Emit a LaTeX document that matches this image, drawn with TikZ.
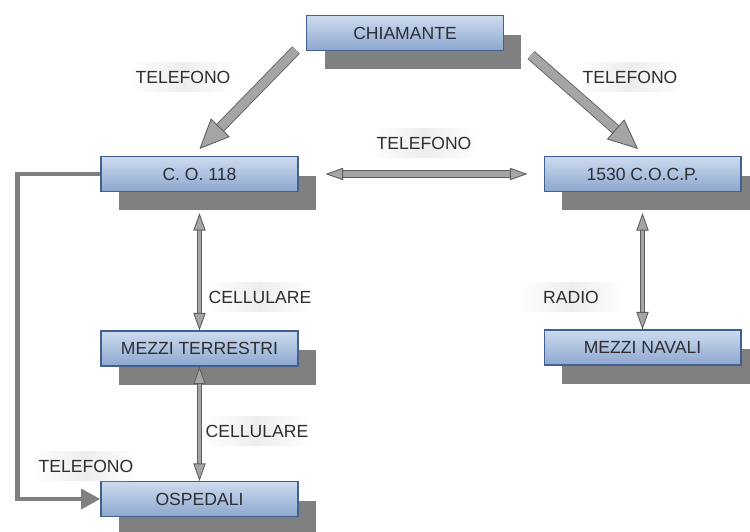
\documentclass[tikz,border=0pt]{standalone}
\usepackage{fontspec}
\setmainfont{Liberation Sans}
\usetikzlibrary{arrows.meta,shadows}
\definecolor{boxtop}{RGB}{205,219,238}
\definecolor{boxbot}{RGB}{141,167,207}
\definecolor{boxline}{RGB}{66,96,146}
\definecolor{shade}{RGB}{128,128,128}
\definecolor{linkfill}{RGB}{165,165,165}
\definecolor{linkline}{RGB}{95,95,95}
\definecolor{txt}{RGB}{45,45,50}
\tikzset{
  box/.style={draw=boxline, line width=0.6pt, top color=boxtop, bottom color=boxbot,
    minimum width=3.94cm, minimum height=0.7cm, inner sep=0pt, text=txt, font=\normalsize,
    drop shadow={fill=shade, opacity=1, shadow xshift=0.36cm, shadow yshift=-0.38cm}},
  lab/.style={left color=white, right color=white, middle color=black!7, rounded corners=6pt,
    minimum width=2.1cm, minimum height=0.6cm, inner sep=0pt, text=txt, font=\normalsize},
  bigarrow/.style={draw=linkline, line width=0.5pt, double=linkfill, double distance=5pt,
    -{Triangle[length=17pt,width=15pt,fill=linkfill,color=linkline,line width=0.5pt]}},
  twoway/.style={draw=linkline, line width=0.5pt, double=linkfill, double distance=#1,
    {Triangle[length=10pt,width=7pt,fill=linkfill,color=linkline,line width=0.5pt]}-{Triangle[length=10pt,width=7pt,fill=linkfill,color=linkline,line width=0.5pt]}},
  twoway/.default=2pt,
  elbow/.style={draw=shade, line width=2.8pt, -{Triangle[length=11pt,width=11pt]}}
}
\begin{document}
\begin{tikzpicture}[x=0.02cm,y=-0.02cm]
	\useasboundingbox (0,0) rectangle (750,531);
	
	% boxes
	\node[box] (chiamante) at (405,33) {CHIAMANTE};
	\node[box] (co) at (199.5,174) {C. O. 118};
	\node[box] (cocp) at (642.5,174) {1530 C.O.C.P.};
	\node[box] (terrestri) at (199.5,348.5) {MEZZI TERRESTRI};
	\node[box] (navali) at (642.5,347.5) {MEZZI NAVALI};
	\node[box] (ospedali) at (199.5,499) {OSPEDALI};
	
	% labels
	\node[lab] (telA) at (183,77) {TELEFONO};
	\node[lab] (telB) at (630,77) {TELEFONO};
	\node[lab] (telC) at (424,143) {TELEFONO};
	\node[lab] (cellA) at (260,297) {CELLULARE};
	\node[lab] (radio) at (571,297) {RADIO};
	\node[lab] (cellB) at (257,431) {CELLULARE};
	\node[lab] (telD) at (86,466) {TELEFONO};
	
	% links
	\draw[bigarrow] ([shift={(-10,-1)}]chiamante.south west) -- ([shift={(0,-7)}]co.north);
	\draw[bigarrow] ([shift={(27,4)}]chiamante.south east) -- ([shift={(-4.5,-7)}]cocp.north);
	\draw[twoway=3pt] ([shift={(27,0)}]co.east) -- ([shift={(-16,0)}]cocp.west);
	\draw[twoway] ([shift={(0,21)}]co.south) -- (terrestri.north);
	\draw[twoway] (terrestri.south) -- (ospedali.north);
	\draw[twoway] ([shift={(0,21)}]cocp.south) -- (navali.north);
	\draw[elbow] (co.west) -- ++(-83,0) |- (ospedali.west);
\end{tikzpicture}
\end{document}
